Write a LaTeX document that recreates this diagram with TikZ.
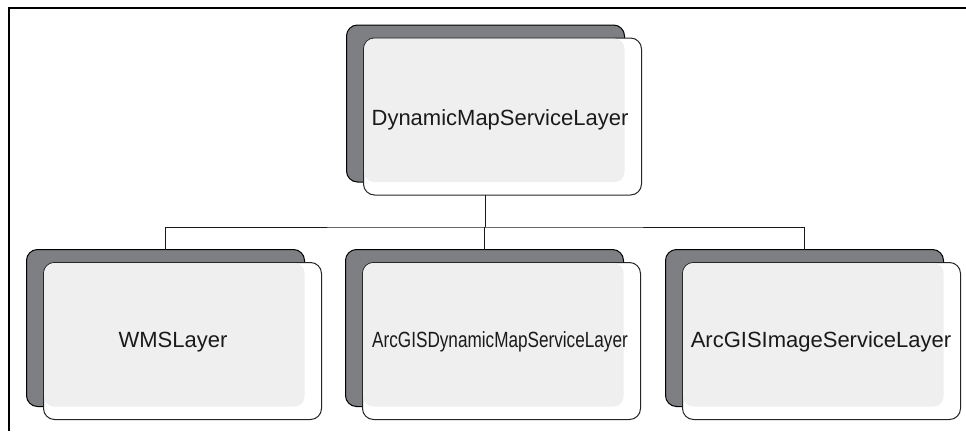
\documentclass[tikz,border=0pt]{standalone}
\usepackage{fontspec}
\setmainfont{Liberation Sans}
\definecolor{shadowgray}{HTML}{7E7F83}
\definecolor{lightfill}{HTML}{EEEFEE}
\definecolor{txt}{HTML}{1A1A1A}
\tikzset{
  shadowbox/.style={draw=black, line width=1pt, fill=shadowgray, rounded corners=11pt,
    rectangle, minimum width=278pt, minimum height=157pt, inner sep=0pt, outer sep=0pt},
  frontbox/.style={draw=black!85, line width=1pt, fill=white, rounded corners=11pt,
    rectangle, minimum width=278pt, minimum height=157pt, inner sep=0pt, outer sep=0pt},
  lbl/.style={text=txt, anchor=base, inner sep=0pt, font=\fontsize{22}{26}\selectfont},
  conn/.style={draw=black!90, line width=1pt},
  frame/.style={draw=black, line width=1.3pt}
}
\newcommand{\mkbox}[3]{%
  \node[shadowbox] (#1s) at (#2,#3) {};
  \node[frontbox, anchor=north west] (#1f) at ([shift={(17pt,-13pt)}]#1s.north west) {};
  \fill[lightfill, rounded corners=10pt] ([shift={(0.6pt,-0.6pt)}]#1f.north west) rectangle (#1s.south east);
}
\begin{document}
\begin{tikzpicture}[x=1pt, y=-1pt]
\useasboundingbox (0,0) rectangle (966,431);
\fill[white] (0,0) rectangle (966,431);
\draw[frame] (9,431) -- (9,8) -- (966,8);

\mkbox{top}{485.5}{103.5}
\mkbox{l}{165.5}{328}
\mkbox{m}{484.5}{328}
\mkbox{r}{804.5}{328}

\node[lbl] (ttop) at (500,125) {DynamicMapServiceLayer};
\node[lbl] (tl) at (173,347) {WMSLayer};
\node[lbl] (tm) at (500,347) {\scalebox{0.78}[1]{ArcGISDynamicMapServiceLayer}};
\node[lbl] (tr) at (821,347) {ArcGISImageServiceLayer};

\coordinate (bus) at (485.5,227);
\draw[conn] (tops.south |- topf.south) -- (tops.south |- bus);
\draw[conn] (ls.north) |- (bus) -| (rs.north);
\draw[conn] (ms.north) -- (ms.north |- bus);
\end{tikzpicture}
\end{document}
